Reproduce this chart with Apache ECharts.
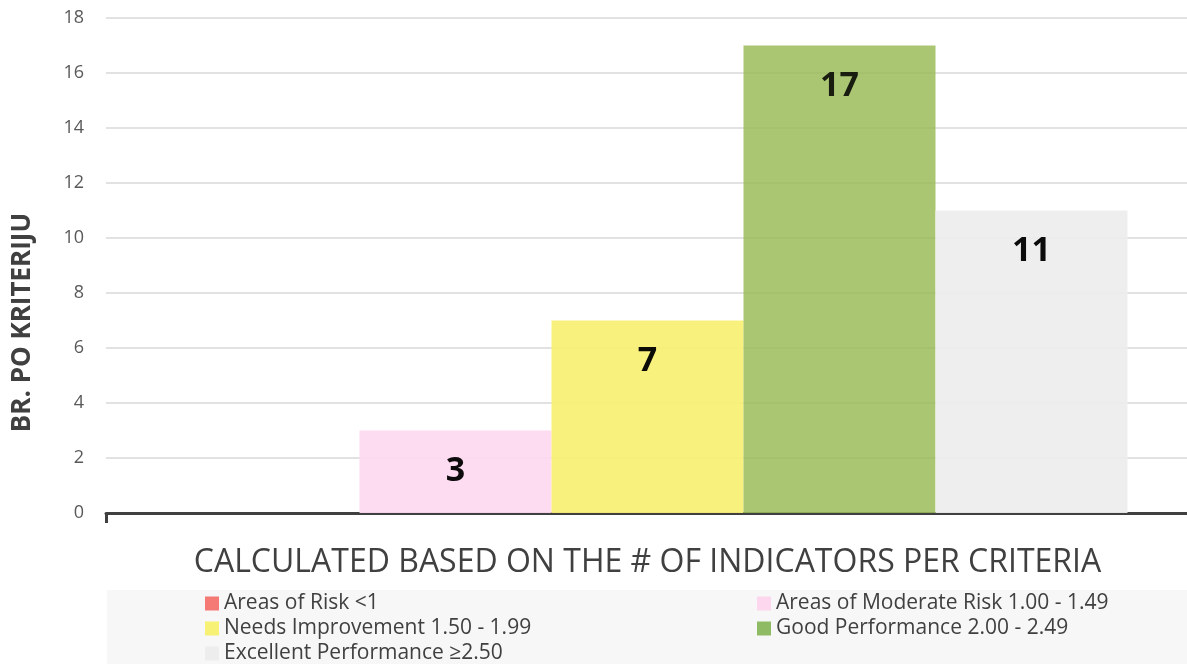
<!DOCTYPE html>
<html lang="en">
<head>
    <meta charset="UTF-8">
    <title>Indicators per criteria</title>
    <style>
        body, html { margin: 0; padding: 0; width: 100%; height: 100%; background: #fff; }
        #container { width: 1187px; height: 664px; }
    </style>
    <script src="https://cdn.jsdelivr.net/npm/echarts@6/dist/echarts.min.js"></script>
</head>
<body>
<div id="container"></div>
<script type="text/javascript">
    var categories = [''];
    var seriesNames = ['Areas of Risk <1', 'Areas of Moderate Risk 1.00 - 1.49', 'Needs Improvement 1.50 - 1.99',
        'Good Performance 2.00 - 2.49', 'Excellent Performance \u22652.50'];
    var seriesValues = [0, 3, 7, 17, 11];
    var legendColors = ['#f4726e', '#fcd5ec', '#f7f06f', '#7cb04b', '#ececec'];
    var barColors = ['#f4726e', '#fdd9ef', '#f9f077', '#9cbc5a', '#ededed'];

    var myChart = echarts.init(document.getElementById('container'));
    var font = '"Open Sans", "Liberation Sans", sans-serif';

    var series = seriesNames.map(function (name, i) {
        return {
            name: name,
            type: 'bar',
            data: [seriesValues[i]],
            barWidth: 192,
            barGap: '0%',
            itemStyle: {color: barColors[i], opacity: i === 3 ? 0.85 : 0.95},
            label: {
                show: seriesValues[i] > 0,
                position: 'insideTop',
                distance: 24,
                color: '#000',
                fontSize: 34,
                fontWeight: 'bold',
                fontFamily: font
            }
        };
    });

    function legendData(idx) {
        return idx.map(function (i) {
            return {name: seriesNames[i], itemStyle: {color: legendColors[i]}};
        });
    }

    var legendCommon = {
        orient: 'vertical',
        padding: 0,
        itemWidth: 14,
        itemHeight: 14,
        itemGap: 4,
        icon: 'rect',
        selectedMode: false,
        textStyle: {color: '#404040', fontSize: 21, lineHeight: 21, fontFamily: font}
    };

    var option = {
        animation: false,
        graphic: [{
            type: 'rect',
            left: 107, top: 590,
            shape: {width: 1080, height: 74},
            style: {fill: '#f7f7f7'},
            z: -1
        }],
        legend: [
            Object.assign({left: 205, top: 593, height: 80, data: legendData([0, 2, 4])}, legendCommon),
            Object.assign({left: 757, top: 593, height: 80, data: legendData([1, 3])}, legendCommon)
        ],
        grid: {left: 106, right: -2, top: 18, bottom: 151, containLabel: false, outerBoundsMode: 'none'},
        xAxis: {
            type: 'category',
            data: categories,
            name: 'CALCULATED BASED ON THE # OF INDICATORS PER CRITERIA',
            nameLocation: 'middle',
            nameGap: 34,
            nameTextStyle: {color: '#404040', fontSize: 32, fontFamily: font},
            axisLine: {lineStyle: {color: '#404040', width: 3}},
            axisTick: {show: true, length: 10, lineStyle: {color: '#404040', width: 3}},
            axisLabel: {show: false}
        },
        yAxis: {
            type: 'value',
            min: 0,
            max: 18,
            interval: 2,
            name: 'BR. PO KRITERIJU',
            nameLocation: 'middle',
            nameRotate: 90,
            nameGap: 70,
            nameTextStyle: {color: '#404040', fontSize: 26, fontWeight: 'bold', fontFamily: font, padding: [0, 114, 0, 0]},
            axisLine: {show: false},
            axisTick: {show: false},
            axisLabel: {color: '#595959', fontSize: 18, margin: 22, fontFamily: font},
            splitLine: {lineStyle: {color: '#d9d9d9', width: 1.5}}
        },
        series: series
    };
    myChart.setOption(option);
</script>
</body>
</html>
